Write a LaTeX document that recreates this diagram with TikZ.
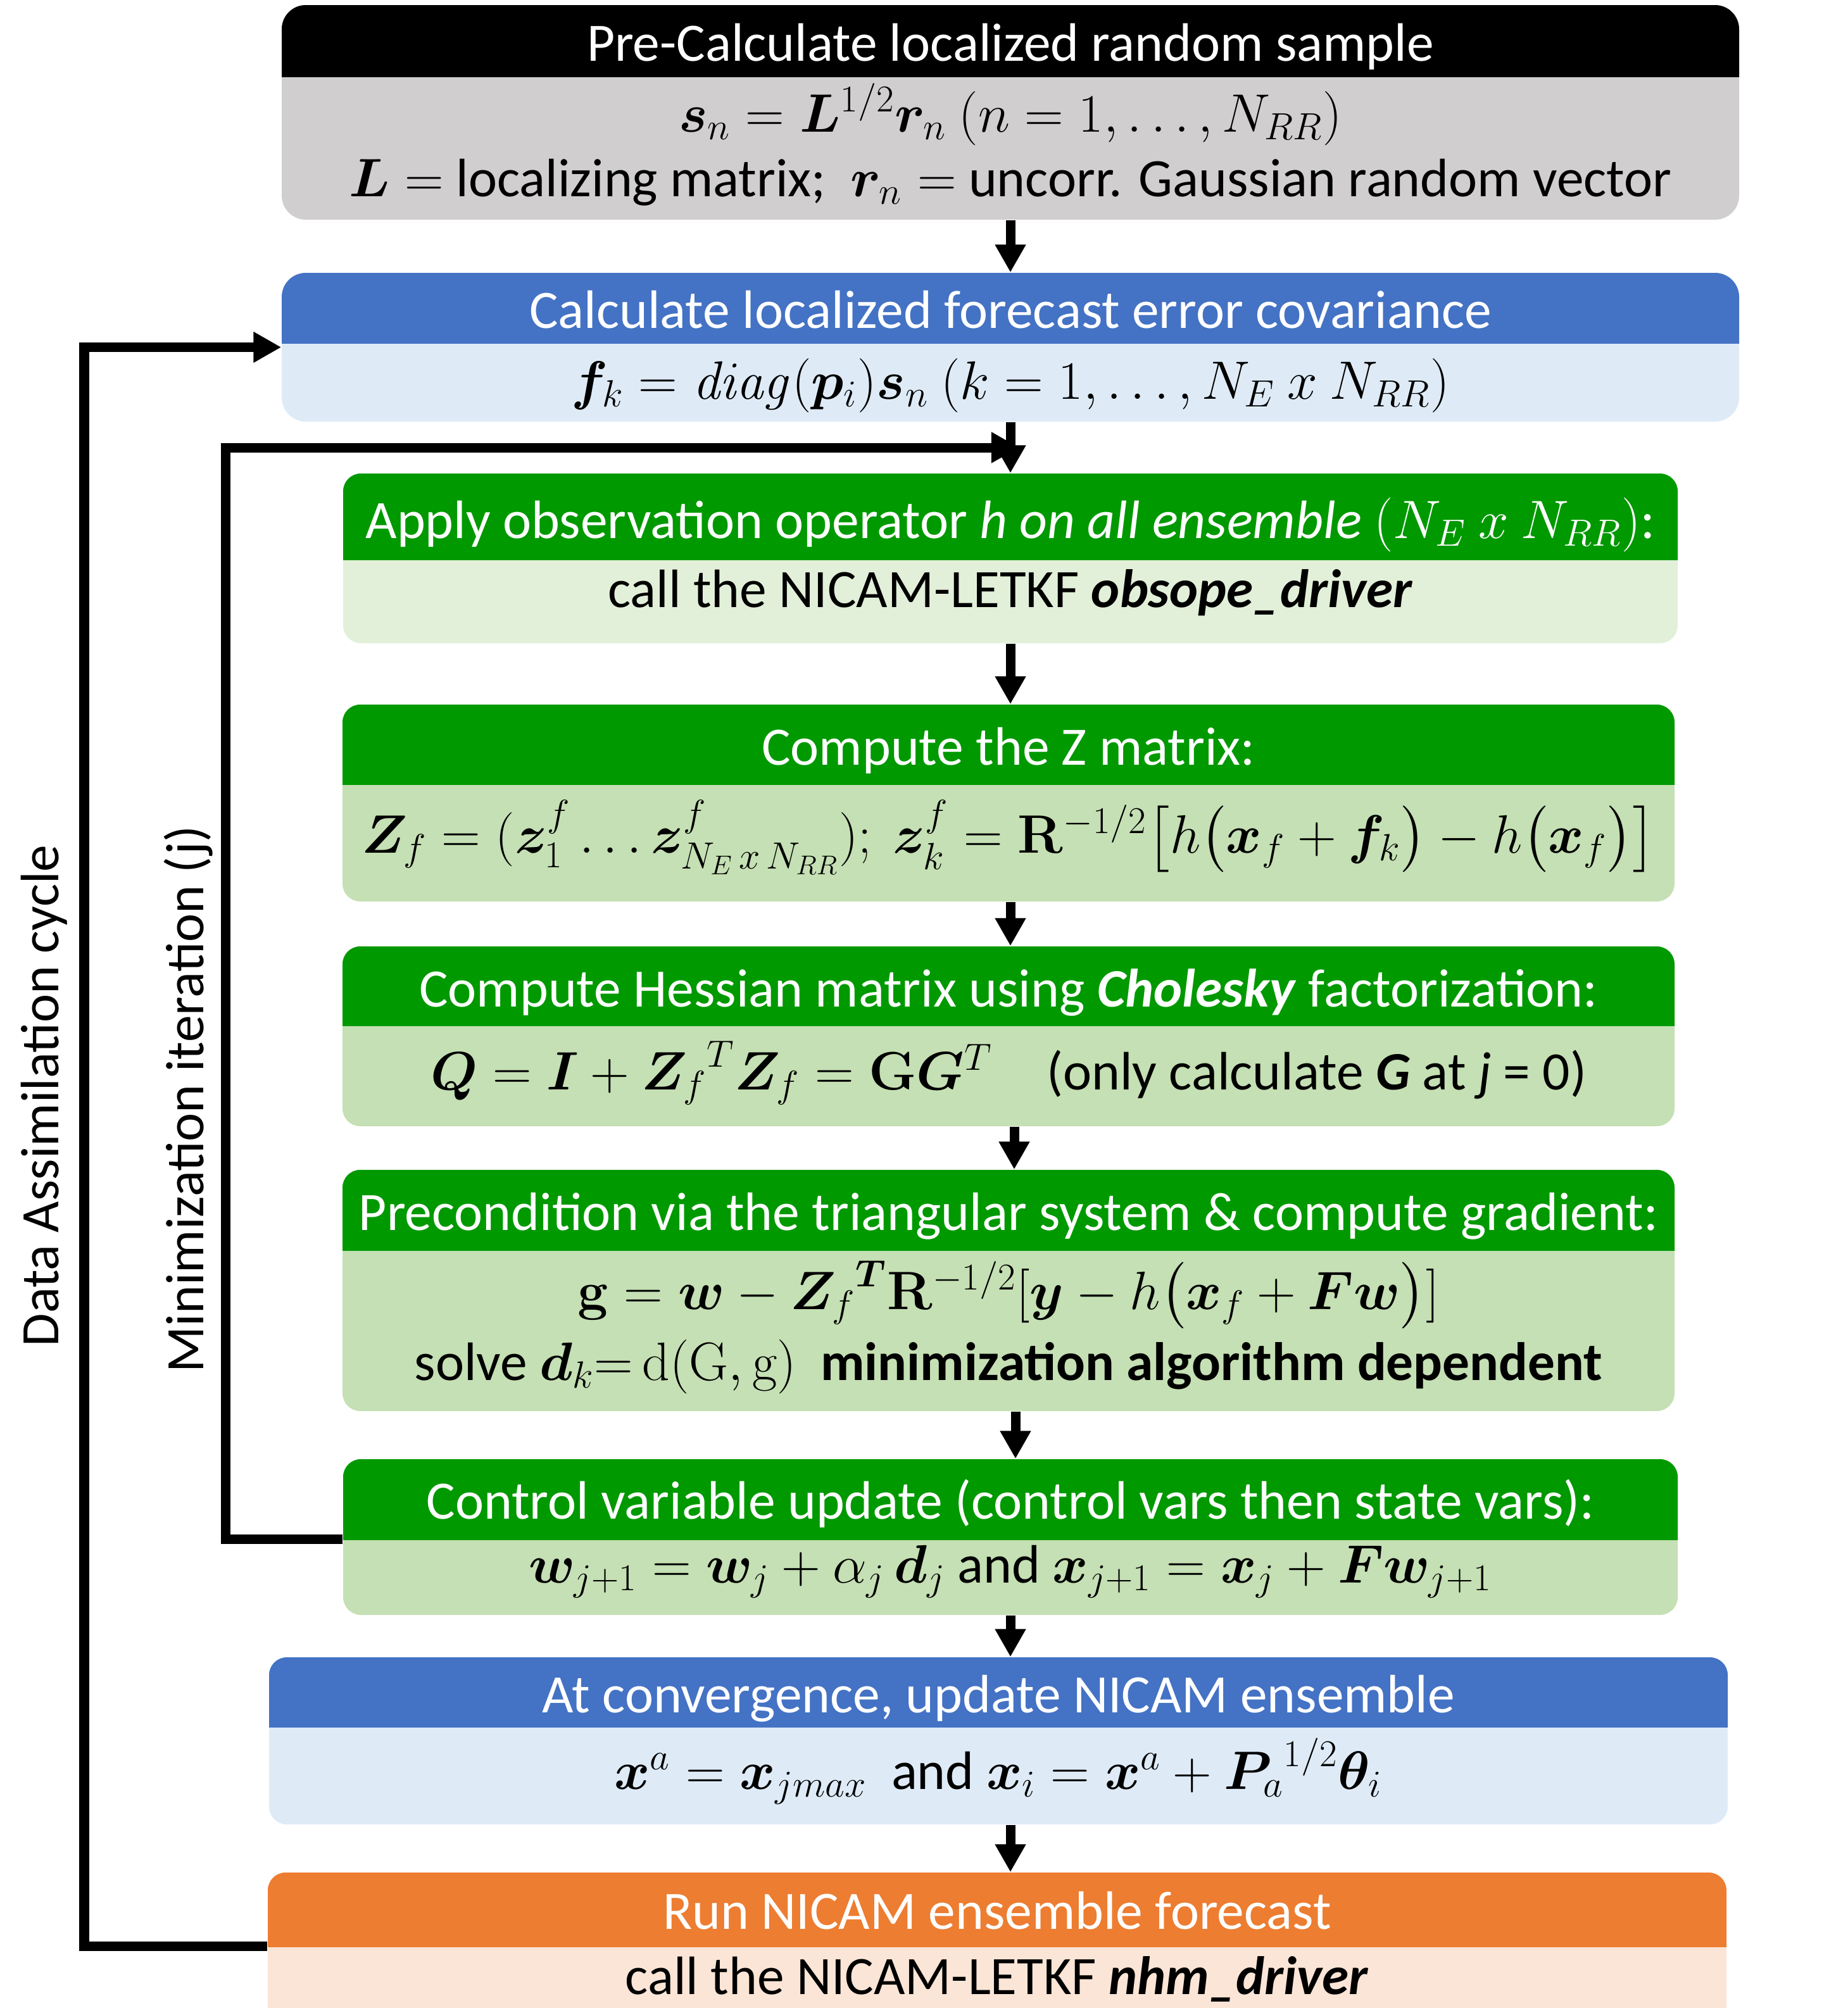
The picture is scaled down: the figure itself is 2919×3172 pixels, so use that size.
\RequirePackage{fix-cm}
\documentclass[tikz,border=0pt]{standalone}
\usepackage{amsmath}
\usepackage{bm}
\usepackage[no-math]{fontspec}
\setmainfont{Carlito}
\usetikzlibrary{arrows.meta,fit}
\definecolor{hblack}{HTML}{000000}
\definecolor{bgray}{HTML}{D0CECE}
\definecolor{hblue}{HTML}{4472C4}
\definecolor{bblue}{HTML}{DEEBF7}
\definecolor{hgreen}{HTML}{009900}
\definecolor{bgreenA}{HTML}{E2F0D9}
\definecolor{bgreen}{HTML}{C5E0B4}
\definecolor{horange}{HTML}{ED7D31}
\definecolor{borange}{HTML}{FBE5D6}
\newcommand\fsz{\fontsize{24.3}{29}\selectfont}
\newcommand\flowbox[9]{%
  \fill[#8, rounded corners=#9] (#2,#3) rectangle (#5,#6);
  \begin{scope}
    \clip (#2,#3) rectangle (#5,#4);
    \fill[#7, rounded corners=#9] (#2,#3) rectangle (#5,#6);
  \end{scope}
  \node[fit={(#2,#3) (#5,#6)}, inner sep=0pt] (#1) {};
  \node[fit={(#2,#3) (#5,#4)}, inner sep=0pt] (#1h) {};
  \node[fit={(#2,#4) (#5,#6)}, inner sep=0pt] (#1b) {};
}
\tikzset{
  hdr/.style={anchor=base, text=white, font=\fsz, inner sep=0pt, text depth=0pt},
  bodytxt/.style={anchor=base, text=black, font=\fsz, inner sep=0pt},
  conn/.style={line width=0.15cm, -{Triangle[length=0.44cm,width=0.46cm]}},
  sidelabel/.style={rotate=90, font=\fsz, inner sep=0pt},
}
\begin{document}
\begin{tikzpicture}[x=0.01cm, y=-0.01cm]
\clip (0,0) rectangle (2919,3172);
\fill[white] (0,0) rectangle (2919,3172);
% boxes
\flowbox{b1}{445}{8}{121}{2747}{347}{hblack}{bgray}{0.38cm}
\flowbox{b2}{445}{431}{542}{2747}{666}{hblue}{bblue}{0.38cm}
\flowbox{b3}{542}{748}{884}{2650}{1016}{hgreen}{bgreenA}{0.28cm}
\flowbox{b4}{541}{1113}{1239}{2645}{1424}{hgreen}{bgreen}{0.28cm}
\flowbox{b5}{541}{1495}{1620}{2645}{1779}{hgreen}{bgreen}{0.28cm}
\flowbox{b6}{541}{1848}{1975}{2645}{2229}{hgreen}{bgreen}{0.28cm}
\flowbox{b7}{542}{2305}{2432}{2650}{2551}{hgreen}{bgreen}{0.28cm}
\flowbox{b8}{425}{2618}{2728}{2729}{2882}{hblue}{bblue}{0.28cm}
\flowbox{b9}{423}{2958}{3075}{2727}{3260}{horange}{borange}{0.28cm}
% helper coordinates
\coordinate (ax) at (1596,0);
\coordinate (ax2) at (1602,0);
\coordinate (ax3) at (1604,0);
\coordinate (inx) at (356,0);
\coordinate (outx) at (133,0);
\coordinate (jn) at (1610,707);
% connectors
\draw[conn] (b1.south -| ax) -- (b2.north -| ax);
\draw[conn] (b2.south -| ax) -- (b3.north -| ax);
\draw[conn] (b3.south -| ax) -- (b4.north -| ax);
\draw[conn] (b4.south -| ax) -- (b5.north -| ax);
\draw[conn] (b5.south -| ax2) -- (b6.north -| ax2);
\draw[conn] (b6.south -| ax3) -- (b7.north -| ax3);
\draw[conn] (b7.south -| ax) -- (b8.north -| ax);
\draw[conn] (b8.south -| ax) -- (b9.north -| ax);
\draw[conn] (b7b.north west) -- (b7b.north west -| inx) |- (jn);
\draw[conn] (b9b.north west) -- (b9b.north west -| outx) |- (b2.west);
% texts
\node[hdr] (t1h) at (1596,96) {Pre-Calculate localized random sample};
\node[bodytxt] (t1a) at (1596,208) {$\bm{s}_n = \bm{L}^{1/2}\bm{r}_n\ (n = 1, \dots, N_{RR})$};
\node[bodytxt] (t1b) at (1596,310) {$\bm{L} =$ localizing matrix;\ \ $\bm{r}_n =$ uncorr. Gaussian random vector};
\node[hdr] (t2h) at (1596,518) {Calculate localized forecast error covariance};
\node[bodytxt] (t2b) at (1596,630) {$\bm{f}_k = \mathit{diag}(\bm{p}_i)\bm{s}_n\ (k = 1, \dots, N_E\ x\ N_{RR})$};
\node[hdr] (t3h) at (1596,850) {Apply observation operator \textit{h on all ensemble} $(N_E\ x\ N_{RR})$:};
\node[bodytxt] (t3b) at (1596,959) {call the NICAM-LETKF \textbf{\textit{obsope\_driver}}};
\node[hdr] (t4h) at (1593,1208) {Compute the Z matrix:};
\node[bodytxt] (t4b) at (1593,1347) {$\bm{Z}_f = (\bm{z}_1^f \ldots \bm{z}_{N_E\,x\,N_{RR}}^f);\ \bm{z}_k^f = \mathbf{R}^{-1/2}\bigl[h\bigl(\bm{x}_f + \bm{f}_k\bigr) - h\bigl(\bm{x}_f\bigr)\bigr]$};
\node[hdr] (t5h) at (1593,1590) {Compute Hessian matrix using \textbf{\textit{Cholesky}} factorization:};
\node[bodytxt] (t5b) at (1593,1721) {$\bm{Q} = \bm{I} + {\bm{Z}_f}^{T}\bm{Z}_f = \mathbf{G}\bm{G}^{T}$\quad(only calculate \textbf{\textit{G}} at \textit{j} = 0)};
\node[hdr] (t6h) at (1593,1943) {Precondition via the triangular system \& compute gradient:};
\node[bodytxt] (t6a) at (1593,2068) {$\mathbf{g} = \bm{w} - {\bm{Z}_f}^{\bm{T}}\mathbf{R}^{-1/2}[\bm{y} - h\bigl(\bm{x}_f + \bm{F}\bm{w}\bigr)]$};
\node[bodytxt] (t6b) at (1593,2180) {solve $\bm{d}_k{=}\,\mathrm{d}(\mathrm{G},\mathrm{g})$\ \ \textbf{minimization algorithm dependent}};
\node[hdr] (t7h) at (1596,2399) {Control variable update (control vars then state vars):};
\node[bodytxt] (t7b) at (1596,2500) {$\bm{w}_{j+1} = \bm{w}_j + \alpha_j\,\bm{d}_j$ and $\bm{x}_{j+1} = \bm{x}_j + \bm{F}\bm{w}_{j+1}$};
\node[hdr] (t8h) at (1577,2705) {At convergence, update NICAM ensemble};
\node[bodytxt] (t8b) at (1577,2826) {$\bm{x}^a = \bm{x}_{jmax}$\ \ and $\bm{x}_i = \bm{x}^a + {\bm{P}_a}^{1/2}\bm{\theta}_i$};
\node[hdr] (t9h) at (1575,3047) {Run NICAM ensemble forecast};
\node[bodytxt] (t9b) at (1575,3150) {call the NICAM-LETKF \textbf{\textit{nhm\_driver}}};
% side labels
\node[sidelabel] (lab1) at (70,1731) {Data Assimilation cycle};
\node[sidelabel] (lab2) at (298,1736) {Minimization iteration (j)};
\end{tikzpicture}
\end{document}
